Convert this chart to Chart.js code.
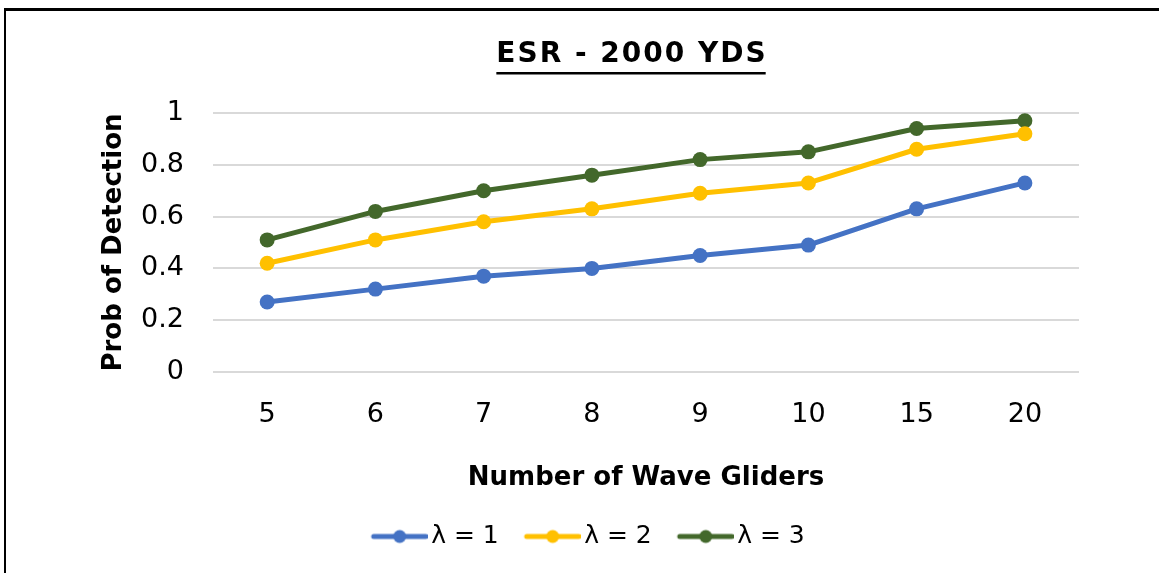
<!DOCTYPE html>
<html>
<head>
<meta charset="utf-8">
<script src="https://cdn.jsdelivr.net/npm/chart.js@4.4.1/dist/chart.umd.min.js"></script>
<style>
  html, body { margin: 0; padding: 0; background: #fff; width: 1159px; height: 573px; overflow: hidden; }
  #frame { position: absolute; left: 4px; top: 8px; width: 1300px; height: 700px;
           border-top: 3px solid #000; border-left: 2px solid #000; }
  #wrap { position: absolute; left: 6px; top: 11px; width: 1153px; height: 562px; }
</style>
</head>
<body>
<div id="frame"></div>
<div id="wrap"><canvas id="chart"></canvas></div>
<script>
// Detection probability vs. number of wave gliders, for three λ values
const categories = ['5', '6', '7', '8', '9', '10', '15', '20'];
const lambda1 = [0.27, 0.32, 0.37, 0.40, 0.45, 0.49, 0.63, 0.73];
const lambda2 = [0.42, 0.51, 0.58, 0.63, 0.69, 0.73, 0.86, 0.92];
const lambda3 = [0.51, 0.62, 0.70, 0.76, 0.82, 0.85, 0.94, 0.97];
const seriesNames = ['λ = 1', 'λ = 2', 'λ = 3'];
const seriesColors = ['#4472C4', '#FFC000', '#43682B'];
const yTickValues = [0, 0.2, 0.4, 0.6, 0.8, 1];
const chartTitle = 'ESR - 2000 YDS';
const xTitle = 'Number of Wave Gliders';
const yTitle = 'Prob of Detection';

const FONT = '"DejaVu Sans", sans-serif';

// Line-with-marker swatch used as the legend symbol
function makeSwatch(color) {
  const c = document.createElement('canvas');
  c.width = 64; c.height = 16;
  const g = c.getContext('2d');
  g.strokeStyle = color;
  g.lineWidth = 5;
  g.lineCap = 'round';
  g.beginPath(); g.moveTo(10, 8); g.lineTo(62, 8); g.stroke();
  g.fillStyle = color;
  g.beginPath(); g.arc(36, 8, 6.5, 0, Math.PI * 2); g.fill();
  return c;
}

// Bold, underlined chart title
const titlePlugin = {
  id: 'underlinedTitle',
  afterDraw(chart) {
    const ctx = chart.ctx;
    const area = chart.chartArea;
    ctx.save();
    ctx.font = 'bold 28px ' + FONT;
    const spacing = 2;
    ctx.letterSpacing = spacing + 'px';
    ctx.fillStyle = '#000';
    ctx.textAlign = 'left';
    ctx.textBaseline = 'alphabetic';
    const w = ctx.measureText(chartTitle).width - spacing;
    const cx = (area.left + area.right) / 2 - 15;
    const base = 51;
    ctx.fillText(chartTitle, cx - w / 2, base);
    ctx.fillRect(cx - w / 2, base + 10, w, 2.5);
    ctx.restore();
  }
};

const datasets = [lambda1, lambda2, lambda3].map((vals, i) => ({
  label: seriesNames[i],
  data: vals,
  borderColor: seriesColors[i],
  backgroundColor: seriesColors[i],
  pointBackgroundColor: seriesColors[i],
  pointBorderColor: seriesColors[i],
  borderWidth: 5,
  borderJoinStyle: 'round',
  pointRadius: 7.5,
  pointBorderWidth: 0,
  pointHoverRadius: 7.5,
  tension: 0,
  fill: false
}));

const swatches = seriesColors.map(makeSwatch);

new Chart(document.getElementById('chart'), {
  type: 'line',
  data: { labels: categories, datasets },
  plugins: [titlePlugin],
  options: {
    responsive: true,
    maintainAspectRatio: false,
    animation: false,
    events: [],
    layout: { padding: { top: 102, left: 92.4, right: 80, bottom: 14 } },
    plugins: {
      title: { display: false },
      tooltip: { enabled: false },
      legend: {
        position: 'bottom',
        labels: {
          usePointStyle: true,
          pointStyleWidth: 46,
          boxHeight: 16,
          padding: 27,
          color: '#000',
          font: { family: FONT, size: 25 },
          generateLabels(chart) {
            return chart.data.datasets.map((ds, i) => ({
              text: ds.label,
              pointStyle: swatches[i],
              fillStyle: ds.borderColor,
              strokeStyle: ds.borderColor,
              lineWidth: 0,
              hidden: false,
              datasetIndex: i,
              fontColor: '#000'
            }));
          }
        }
      }
    },
    scales: {
      x: {
        offset: true,
        grid: { display: false, drawTicks: false },
        border: { display: false },
        ticks: { color: '#000', padding: 27, font: { family: FONT, size: 27 } },
        title: {
          display: true, text: xTitle, color: '#000',
          font: { family: FONT, size: 26, weight: 'bold' },
          padding: { top: 4, bottom: 3.4 }
        }
      },
      y: {
        min: 0, max: 1,
        afterBuildTicks(scale) { scale.ticks = yTickValues.map(v => ({ value: v })); },
        grid: { color: '#d9d9d9', lineWidth: 2, drawTicks: false },
        border: { display: false },
        ticks: {
          color: '#000', padding: 29, font: { family: FONT, size: 27 },
          callback: (v) => String(v)
        },
        title: {
          display: true, text: yTitle, color: '#000',
          font: { family: FONT, size: 26, weight: 'bold' },
          padding: { top: 0, bottom: -17.5 }
        }
      }
    }
  }
});
</script>
</body>
</html>
